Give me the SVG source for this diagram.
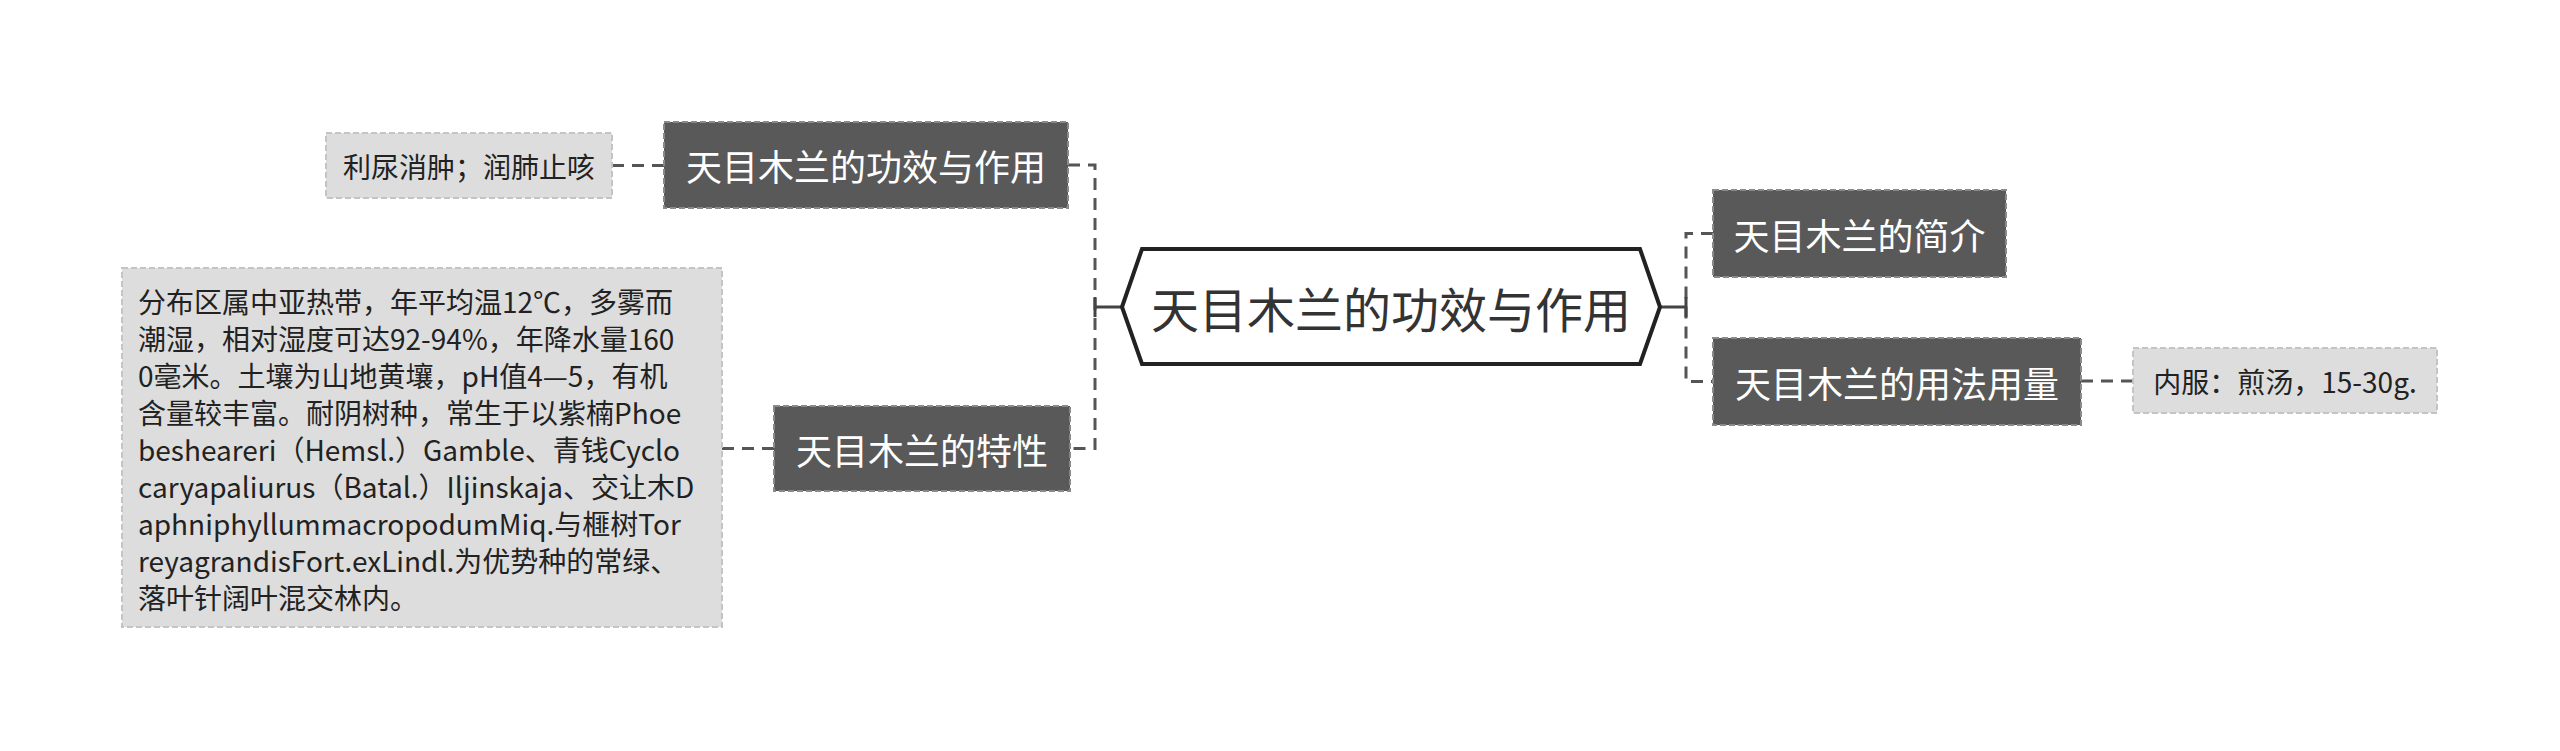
<svg xmlns="http://www.w3.org/2000/svg" width="2560" height="751" viewBox="0 0 2560 751">
<style>
text{font-family:"Noto Sans CJK SC","Noto Sans",sans-serif;}
.dark rect{fill:#595959;stroke:#8a8a8a;stroke-width:2;stroke-dasharray:6 3;}
.dark text{fill:#ffffff;font-size:36px;text-anchor:middle;dominant-baseline:central;}
.leaf rect{fill:#dddddd;stroke:#c4c4c4;stroke-width:2;stroke-dasharray:6 3;}
.leaf text{fill:#222222;font-size:28px;}
.conn{fill:none;stroke:#555555;stroke-width:3;stroke-dasharray:12 8;}
.stub{fill:none;stroke:#444444;stroke-width:3;}
</style>
<rect width="2560" height="751" fill="#ffffff"/>
<g id="connectors">
<path class="conn" d="M612,165.5 H664"/>
<path class="conn" d="M722,448.5 H774"/>
<path class="conn" d="M2081,381 H2133"/>
<path class="conn" d="M1068,165 H1095 V448.5 H1070"/>
<path class="conn" d="M1713,233.5 H1686 V381.5 H1713"/>
<path class="stub" d="M1095,307 H1122 M1095,297 V317"/>
<path class="stub" d="M1660,307 H1686 M1686,297 V317"/>
</g>
<g id="root">
<polygon points="1122,307 1142,249 1640,249 1660,307 1640,364 1142,364" fill="#ffffff" stroke="#222222" stroke-width="4"/>
<text x="1391" y="307" font-size="48" fill="#333333" text-anchor="middle" dominant-baseline="central">天目木兰的功效与作用</text>
</g>
<g id="n1" class="dark">
<rect x="664" y="122" width="404" height="86"/>
<text x="866" y="165">天目木兰的功效与作用</text>
</g>
<g id="leaf1" class="leaf">
<rect x="326" y="133" width="286" height="65"/>
<text x="469" y="165.5" text-anchor="middle" dominant-baseline="central">利尿消肿；润肺止咳</text>
</g>
<g id="n2" class="dark">
<rect x="774" y="406" width="296" height="85"/>
<text x="922" y="448.5">天目木兰的特性</text>
</g>
<g id="leaf2" class="leaf">
<rect x="122" y="268" width="600" height="359"/>
<text x="138" y="313">
<tspan x="138" y="313">分布区属中亚热带，年平均温12℃，多雾而</tspan>
<tspan x="138" y="350">潮湿，相对湿度可达92-94%，年降水量160</tspan>
<tspan x="138" y="387">0毫米。土壤为山地黄壤，pH值4—5，有机</tspan>
<tspan x="138" y="424">含量较丰富。耐阴树种，常生于以紫楠Phoe</tspan>
<tspan x="138" y="461">besheareri（Hemsl.）Gamble、青钱Cyclo</tspan>
<tspan x="138" y="498">caryapaliurus（Batal.）Iljinskaja、交让木D</tspan>
<tspan x="138" y="535">aphniphyllummacropodumMiq.与榧树Tor</tspan>
<tspan x="138" y="572">reyagrandisFort.exLindl.为优势种的常绿、</tspan>
<tspan x="138" y="609">落叶针阔叶混交林内。</tspan>
</text>
</g>
<g id="n3" class="dark">
<rect x="1713" y="190" width="293" height="87"/>
<text x="1859.5" y="233.5">天目木兰的简介</text>
</g>
<g id="n4" class="dark">
<rect x="1713" y="338" width="368" height="87"/>
<text x="1897" y="381.5">天目木兰的用法用量</text>
</g>
<g id="leaf3" class="leaf">
<rect x="2133" y="348" width="304" height="65"/>
<text x="2285" y="380.5" text-anchor="middle" dominant-baseline="central">内服：煎汤，15-30g.</text>
</g>
</svg>
